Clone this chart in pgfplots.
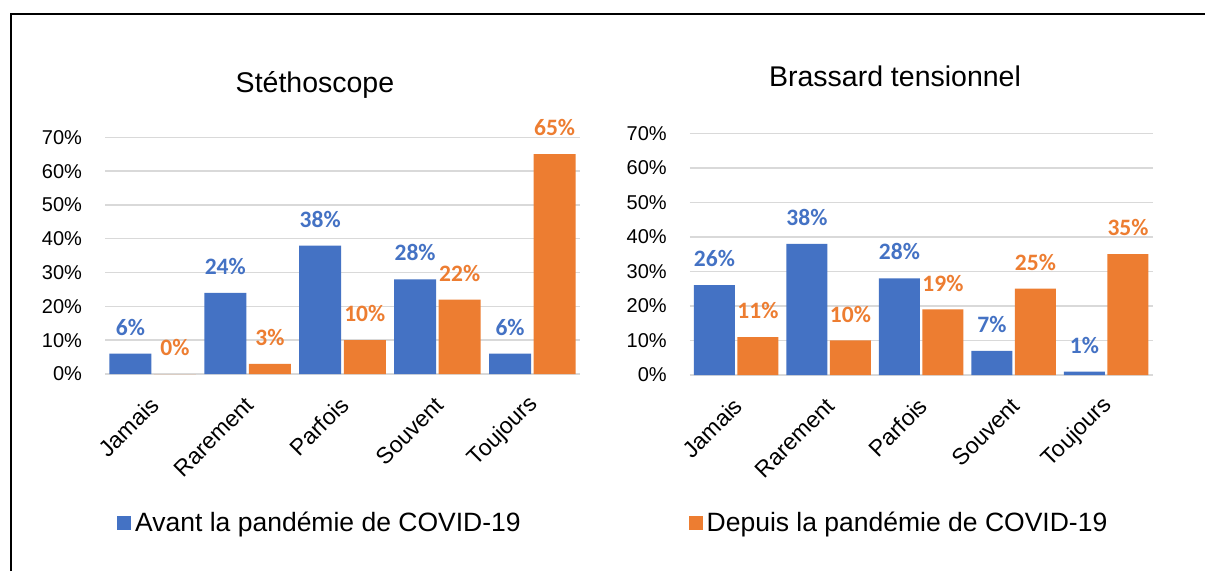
\documentclass[border=0pt]{standalone}
\usepackage{pgfplots}
\pgfplotsset{compat=1.18}
\usepackage{fontspec}
\setmainfont{Liberation Sans}
\newfontfamily\carlito{Carlito}
\definecolor{cblue}{HTML}{4472C4}
\definecolor{corange}{HTML}{ED7D31}
\definecolor{cgrid}{HTML}{D9D9D9}
\newcommand\tf{\fontsize{20}{22}\selectfont}
\newcommand\cf{\fontsize{23}{25}\selectfont}

\pgfplotsset{
  panel/.style={
    scale only axis, anchor=south west,
    ymin=0, ymax=70, xmin=-0.5, xmax=4.5,
    xtick={0,1,2,3,4},
    xticklabels={{\cf Jamais},{\cf Rarement},{\cf Parfois},{\cf Souvent},{\cf Toujours}},
    ytick={0,10,20,30,40,50,60,70},
    yticklabels={{\tf 0\%},{\tf 10\%},{\tf 20\%},{\tf 30\%},{\tf 40\%},{\tf 50\%},{\tf 60\%},{\tf 70\%}},
    ymajorgrids, grid style={cgrid, line width=1.5pt},
    axis line style={draw=none}, major tick length=0pt,
    yticklabel style={inner sep=0pt, xshift=-23pt},
    xticklabel style={inner sep=0pt, anchor=east, xshift=2pt, yshift=-27pt, rotate=45},
    /pgf/number format/assume math mode=true,
    nodes near coords={\pgfmathprintnumber[fixed,precision=0]{\pgfplotspointmeta}\%},
    every node near coord/.append style={font=\carlito\bfseries\fontsize{23.5}{25}\selectfont, inner sep=0pt, anchor=south, yshift=18pt},
    title style={font=\fontsize{28.5}{30}\selectfont, anchor=base, inner sep=0pt},
  },
  bblue/.style={fill=cblue, draw=none, every node near coord/.append style={text=cblue}},
  borange/.style={fill=corange, draw=none, every node near coord/.append style={text=corange}},
}

\begin{document}
\begin{tikzpicture}
\useasboundingbox (0pt,0pt) rectangle (1205pt,571pt);
\fill[white] (0pt,0pt) rectangle (1205pt,571pt);
\draw[line width=2pt] (10.5pt,0pt) -- (10.5pt,557pt) -- (1205pt,557pt);

% Left panel
\begin{axis}[panel, at={(105.2pt,197pt)}, width=474.6pt, height=236.7pt,
  ybar=2.6pt, bar width=42pt,
  title={Stéthoscope}, title style={at={(0.442,1)}, yshift=38.5pt},
  legend columns=2,
  legend style={at={(0.0249,-0.629)}, anchor=west, draw=none, fill=none,
    inner sep=0pt, font=\fontsize{26.5}{28}\selectfont,
    nodes={inner sep=0pt, inner xsep=4pt},
    /tikz/every even column/.append style={column sep=164pt}},
  legend image code/.code={\fill[#1, draw=none] (0pt,-7pt) rectangle (14pt,7pt);},
]
\addplot[bblue] coordinates {(0,6) (1,24) (2,38) (3,28) (4,6)};
\addplot[borange] coordinates {(0,0) (1,3) (2,10) (3,22) (4,65)};
\addlegendentry{Avant la pandémie de COVID-19}
\addlegendentry{Depuis la pandémie de COVID-19}
\end{axis}

% Right panel
\begin{axis}[panel, at={(689.9pt,196pt)}, width=462.6pt, height=241.7pt,
  ybar=2.5pt, bar width=41pt,
  title={Brassard tensionnel}, title style={at={(0.4434,1)}, yshift=40.5pt},
]
\addplot[bblue] coordinates {(0,26) (1,38) (2,28) (3,7) (4,1)};
\addplot[borange] coordinates {(0,11) (1,10) (2,19) (3,25) (4,35)};
\end{axis}
\end{tikzpicture}
\end{document}
